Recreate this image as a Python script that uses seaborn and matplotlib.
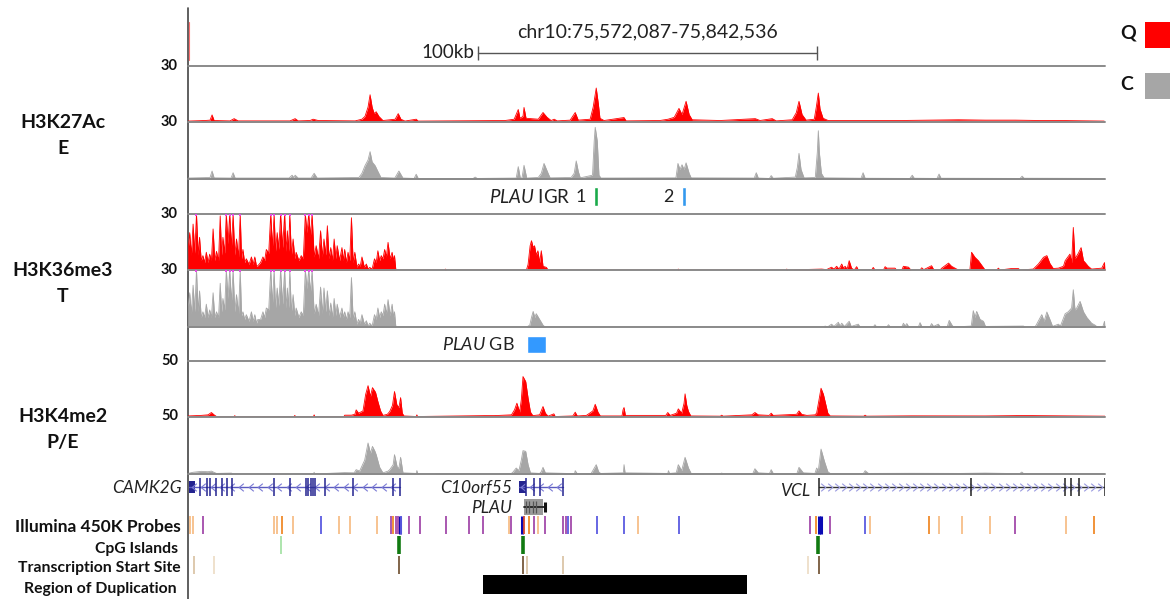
import numpy as np
import matplotlib
matplotlib.use("Agg")
import matplotlib.pyplot as plt
from matplotlib.patches import Rectangle
from matplotlib.path import Path
import seaborn as sns

# Region: chr10:75,572,087-75,842,536, all positions in kb from region start
REGION = "chr10:75,572,087-75,842,536"
SPAN_KB = 270.45
SCALE_BAR_KB = (85.5, 185.5)

# ---- signal tracks, (kb, value) ----
K27_Q = [(0.0, 0.5), (5.0, 0.8), (6.5, 1), (7.1, 3.8), (7.7, 0.8), (12.4, 0.6), (13.6, 1.8), (14.8, 0.6),
         (30.1, 0.6), (31.6, 1.8), (32.5, 0.6), (36.0, 0.8), (36.9, 1.5), (38.4, 0.8), (49.3, 0.6), (51.3, 1.5),
         (52.2, 3.0), (53.1, 8), (53.7, 14.6), (54.3, 8), (54.9, 4.5), (55.5, 5.5), (56.3, 3), (57.5, 0.8),
         (61.1, 1.5), (62.0, 4.5), (62.8, 1.5), (64.0, 0.5), (67.3, 1.5), (67.9, 0.5), (93.5, 0.8), (96.2, 1.5),
         (97.4, 6.7), (97.9, 2), (98.8, 3), (99.1, 7.8), (99.7, 2), (103.3, 1.5), (104.7, 5.1), (105.9, 2.5),
         (107.1, 0.8), (108.0, 1.5), (108.9, 0.6), (112.7, 1), (114.2, 5.1), (115.1, 1), (118.6, 1.5),
         (119.5, 8), (120.4, 18.2), (121.0, 10), (121.5, 2), (122.7, 0.8), (128.6, 2.4), (129.2, 0.6),
         (139.2, 0.8), (141.6, 1.5), (143.4, 2.5), (144.8, 7.3), (145.7, 4), (146.9, 11.1), (147.8, 4),
         (148.7, 1.2), (156.9, 0.8), (167.3, 1.8), (168.7, 0.8), (172.3, 1.8), (173.5, 0.6), (178.2, 1.2),
         (179.4, 5), (180.2, 11.1), (181.1, 4), (182.3, 1), (184.7, 1.5), (185.3, 8), (185.9, 15.5), (186.4, 7),
         (187.3, 2), (188.8, 0.8), (198.2, 0.8), (210.0, 0.8), (227.2, 1.2), (235.1, 1), (244.0, 1),
         (251.3, 0.8), (257.2, 0.8), (270.2, 0.5)]

K27_C = [(0.0, 0.5), (6.5, 0.8), (7.1, 4.2), (7.7, 0.6), (12.7, 0.5), (13.3, 3.3), (13.9, 0.5), (29.8, 0.5),
         (30.7, 2), (31.2, 0.8), (31.6, 2), (32.5, 0.5), (36.3, 0.5), (37.2, 3), (38.1, 0.5), (50.4, 0.8),
         (51.3, 3), (52.2, 7), (53.1, 10), (53.7, 14.4), (54.3, 9), (55.2, 7), (56.0, 4), (56.9, 0.8),
         (61.0, 0.5), (62.2, 4.2), (63.4, 0.5), (66.7, 0.3), (67.3, 2.5), (67.9, 0.3), (84.1, 0.3), (84.7, 1),
         (85.3, 0.3), (96.8, 0.5), (97.4, 6.5), (98.0, 0.5), (98.5, 0.5), (99.1, 7.2), (99.9, 0.5), (103.3, 0.8),
         (104.2, 3), (105.0, 8.2), (106.2, 3), (106.8, 0.6), (113.0, 0.8), (113.9, 3), (114.5, 9.5),
         (115.1, 4), (115.7, 0.6), (119.3, 2), (119.8, 20), (120.1, 27.2), (120.7, 20), (121.2, 2),
         (121.8, 0.5), (143.9, 0.6), (144.5, 8.2), (145.1, 5), (145.7, 7.5), (146.3, 5), (146.9, 8.5),
         (147.8, 3), (148.4, 0.6), (167.0, 0.5), (167.6, 3.3), (168.2, 0.5), (171.5, 0.3), (172.0, 1.8),
         (172.6, 0.4), (179.1, 1), (179.7, 6), (180.2, 13.5), (180.8, 5), (181.7, 0.6), (185.0, 0.8),
         (185.6, 14), (185.9, 25.4), (186.2, 14), (186.8, 3), (187.6, 0.6), (198.5, 0.4), (199.1, 3.3),
         (199.7, 0.4), (212.9, 0.3), (213.6, 2), (214.2, 0.4), (220.9, 0.3), (221.5, 2.6), (222.1, 0.4),
         (245.4, 0.3), (246.0, 1.5), (246.6, 0.4), (270.45, 0.3)]

# H3K36me3: dense gene-body signal over CAMK2G shares one position list
K36_DENSE_KB = [0.0, 0.1, 0.5, 1.0, 1.5, 2.0, 2.5, 3.0, 3.4, 3.9, 4.4, 4.9, 5.4, 5.9, 6.4, 6.9, 7.4, 7.9, 8.4,
                9.0, 9.5, 9.9, 10.3, 10.8, 11.3, 11.8, 12.3, 12.8, 13.3, 13.8, 14.3, 14.9, 15.4, 15.8, 16.2,
                16.7, 17.2, 18.0, 18.7, 19.2, 19.7, 20.2, 20.6, 21.4, 22.1, 22.6, 23.1, 23.8, 24.4, 24.9, 25.4,
                25.8, 26.3, 26.8, 27.3, 27.9, 28.5, 28.9, 29.3, 29.7, 30.0, 30.5, 31.0, 31.5, 31.9, 32.7, 33.4,
                34.0, 34.6, 35.1, 35.6, 36.1, 36.6, 37.2, 37.8, 38.5, 39.1, 39.6, 40.1, 40.6, 41.1, 41.6, 42.1,
                42.6, 43.1, 43.6, 44.0, 44.7, 45.4, 45.8, 46.2, 46.7, 47.2, 47.7, 48.2, 48.7, 49.2, 49.8, 50.3,
                50.8, 51.3, 52.0, 52.6, 53.1, 53.6, 54.3, 55.0, 55.5, 56.0, 56.5, 57.0, 57.5, 58.0, 58.5, 59.0,
                59.6, 60.2, 60.6, 60.9, 61.3]
K36_Q_DENSE = [0, 12, 20, 8, 24.6, 9, 30, 8, 17.5, 5, 7.7, 4, 9.5, 4, 8.5, 5, 22, 5, 10,
               5, 29, 8, 17.5, 9, 30, 14, 30, 12, 30, 8, 16.6, 7, 30, 6, 11,
               4, 6, 3, 7, 3, 7, 2, 2.3, 4, 7, 5, 11, 9, 30, 12, 30,
               10, 20, 11, 30, 12, 30, 10, 21, 10, 30, 8, 16.6, 6, 9.5, 5, 7.7,
               6, 30, 20, 30, 18, 30, 7, 13, 6, 21, 7, 16.6, 8, 23.7, 6, 12,
               5, 16.6, 6, 13, 5, 12, 5, 11, 4, 9.5, 5, 28, 4, 9.5, 1.5, 3.2,
               2, 7, 1.5, 3.2, 0.5, 1.4, 0.5, 6, 4, 10.3, 5, 7.7, 6, 11, 7, 14.8,
               6, 9.5, 5, 7.7, 0]
K36_C_DENSE = [0, 11, 18, 7, 22, 8, 30, 8, 19, 5, 8, 5, 12, 5, 9, 5, 18, 5, 8,
               5, 23, 8, 15, 9, 30, 15, 30, 13, 30, 8, 17, 7, 30, 6, 8,
               4, 6.5, 3, 8, 3, 6.5, 2, 4, 4, 8, 5, 10, 9, 30, 12, 30,
               10, 20.5, 11, 30, 12, 30, 10, 20.5, 10, 30, 8, 17, 6, 10, 5, 8,
               6, 30, 20, 30, 18, 30, 7, 12, 6, 21, 7, 20.5, 8, 19, 6, 12.6,
               5, 15, 6, 12, 5, 10, 5, 8, 4, 8, 5, 26, 4, 8, 1.5, 4,
               2, 6.5, 1.5, 3.3, 0.5, 2, 0.5, 6.5, 4, 10, 5, 8, 6, 12, 7, 14.4,
               6, 12, 5, 8, 0]
K36_Q_REST = [(75.7, 0), (75.9, 0.5), (76.1, 0), (99.8, 0), (100.3, 3), (100.9, 13), (101.3, 15.7), (101.8, 12),
              (102.2, 13), (102.7, 8), (103.2, 10.3), (103.7, 4), (104.2, 10.3), (104.7, 2), (105.7, 1.4),
              (106.2, 0), (144.4, 0), (144.6, 0.5), (144.8, 0), (176.4, 0), (176.6, 0.5), (176.8, 0),
              (186.9, 0.5), (188.3, 0.2), (189.8, 1.5), (190.5, 0.5), (191.3, 2), (192.0, 0.5), (192.8, 3.2),
              (193.3, 1), (193.8, 2), (194.4, 0.5), (195.0, 5), (195.7, 1), (196.5, 0), (197.2, 1.8), (197.7, 0),
              (201.6, 0), (202.1, 1.4), (202.6, 0), (205.1, 0), (205.6, 1.8), (206.1, 1), (208.5, 1), (209.0, 0),
              (210.5, 0), (211.0, 2), (212.5, 1.5), (213.2, 0), (215.9, 0), (216.4, 1.2), (217.0, 0.2),
              (219.3, 2.3), (220.0, 0), (221.8, 0), (222.3, 1), (224.3, 3.7), (225.2, 2), (226.7, 0.5),
              (227.2, 0), (230.6, 0), (231.1, 9.5), (232.1, 6.8), (233.1, 5), (234.3, 2), (235.1, 0),
              (238.5, 0), (239.0, 1), (239.5, 0), (242.9, 0.8), (244.9, 0.8), (245.4, 0), (249.3, 0.5),
              (250.8, 3.2), (252.3, 6.8), (253.3, 7.7), (254.2, 3.5), (255.2, 0.8), (256.7, 1), (258.2, 2),
              (258.7, 5), (260.1, 8.5), (260.6, 4), (261.1, 22.8), (261.6, 6), (262.6, 9), (263.4, 12),
              (264.1, 5), (264.6, 4), (265.5, 2), (266.5, 0.5), (269.5, 1), (270.3, 4), (270.45, 0)]
K36_C_REST = [(99.9, 0), (100.8, 1), (101.3, 5), (101.8, 8.2), (102.3, 5), (102.7, 7), (103.7, 4), (104.7, 1),
              (105.3, 0), (187.5, 0), (187.9, 0.5), (188.6, 0), (189.8, 1.5), (190.5, 0.3), (191.8, 2.5),
              (192.3, 0.5), (192.8, 2), (193.6, 0.3), (195.0, 3), (195.6, 0.3), (197.7, 1.5), (198.2, 0),
              (202.1, 0), (202.6, 1.2), (203.1, 0), (206.1, 0), (206.6, 1.2), (207.1, 0), (210.5, 0), (211.0, 2),
              (211.5, 0.5), (212.0, 1.8), (212.6, 0), (215.4, 0), (215.9, 2.3), (216.5, 0), (218.8, 0),
              (219.3, 1.8), (219.9, 0.3), (221.3, 1.5), (221.9, 0), (223.9, 0), (224.5, 3.5), (225.5, 0.5),
              (226.0, 0), (231.0, 0.5), (231.6, 8.6), (232.1, 5), (232.6, 8.2), (233.6, 4), (234.6, 3),
              (235.2, 0.3), (246.4, 0.5), (246.9, 0), (249.8, 0), (250.3, 1.5), (251.8, 6.5), (252.5, 3),
              (253.3, 7.9), (254.2, 4), (255.0, 0.3), (256.7, 1.5), (257.3, 0.5), (258.7, 7), (259.6, 8),
              (260.6, 10), (261.1, 19.6), (261.6, 9), (262.1, 10), (263.1, 13.5), (264.1, 8), (265.1, 5),
              (266.5, 2), (267.5, 1), (268.2, 0), (269.8, 0), (270.3, 3), (270.45, 0)]

K4_Q = [(0.0, 0.5), (3.9, 1), (5.9, 1.5), (6.9, 3.6), (7.7, 1.5), (8.4, 0), (13.6, 0), (13.8, 0.8), (14.0, 0),
        (31.3, 0), (31.5, 1), (31.7, 0), (37.0, 0), (37.2, 1.5), (37.4, 0), (46.0, 0), (46.2, 1.2), (48.2, 1.2),
        (49.2, 2), (49.6, 6), (50.3, 3), (51.6, 5), (52.4, 20), (53.1, 27.8), (53.8, 18), (54.4, 26),
        (55.3, 21.9), (56.0, 13.5), (56.8, 5), (57.5, 1), (58.8, 2), (59.5, 4.5), (60.3, 10), (60.9, 22.5),
        (61.6, 10.5), (62.2, 8), (62.7, 17), (63.2, 3), (63.7, 0.5), (67.3, 0), (67.5, 1.5), (67.7, 0),
        (87.5, 0.8), (90.4, 0.8), (95.4, 1.5), (96.3, 6), (97.0, 12), (97.8, 4), (98.3, 15), (98.8, 36),
        (99.6, 31.5), (100.3, 16.5), (101.0, 4), (101.7, 0.8), (103.7, 1.5), (104.7, 9), (105.4, 3),
        (106.2, 0.3), (107.9, 2.4), (108.3, 0), (113.5, 0.5), (114.2, 3.9), (114.8, 0.5), (117.5, 1),
        (119.4, 5), (120.1, 11), (120.9, 4), (121.6, 0.5), (128.0, 0.5), (128.3, 6), (128.6, 8.1),
        (129.0, 1), (140.9, 1), (141.5, 3.6), (142.2, 1), (144.1, 3), (144.6, 6.9), (145.6, 3), (146.3, 12),
        (146.6, 20.4), (147.1, 10), (147.6, 4.5), (148.3, 0.5), (157.0, 0.3), (157.4, 1.2), (157.8, 0.3),
        (166.3, 1.5), (167.2, 3.6), (168.2, 1.5), (171.4, 1), (172.0, 3), (172.6, 1), (179.5, 2), (180.2, 5.1),
        (181.0, 2), (182.5, 1), (184.9, 1.5), (185.4, 3), (186.1, 15), (186.7, 25.5), (187.4, 20),
        (187.9, 13.5), (188.7, 3), (189.4, 0.5), (199.3, 0.3), (199.7, 1.2), (200.1, 0.3), (213.4, 0.6),
        (235.1, 0.5), (243.9, 0.8), (245.9, 0.9), (270.45, 0.3)]

K4_C = [(0.0, 0.5), (1.5, 1.5), (3.9, 2.3), (5.9, 2), (6.9, 2.5), (8.4, 0.5), (12.8, 0.8), (13.2, 0),
        (37.0, 0), (37.2, 1.5), (37.4, 0), (46.2, 1.2), (49.0, 1), (49.6, 3.8), (50.6, 2.5), (52.1, 12),
        (53.1, 27), (53.8, 18), (54.4, 24), (55.1, 20), (55.5, 16.8), (56.5, 6), (57.5, 1), (59.0, 2.5),
        (59.5, 3.8), (60.5, 8), (60.9, 16.8), (61.7, 6), (62.2, 5), (62.7, 14.5), (63.4, 1), (67.3, 0.5),
        (67.5, 3), (67.8, 0), (95.3, 0.3), (95.8, 1.5), (96.8, 5.2), (97.6, 3), (98.3, 12), (98.8, 20.3),
        (99.6, 19.7), (100.3, 8), (101.0, 1), (103.7, 0.5), (104.2, 2), (104.7, 5.8), (105.4, 1), (114.0, 0.3),
        (114.2, 2.9), (114.8, 0.3), (118.9, 0.5), (119.4, 3), (120.4, 8.1), (121.1, 2), (121.7, 0.5),
        (128.4, 1), (128.6, 8.1), (128.9, 1), (141.5, 0.5), (141.7, 2.9), (142.0, 0.5), (144.0, 1),
        (144.6, 8.1), (145.6, 3), (146.6, 14.5), (147.6, 5.2), (148.4, 0.5), (157.0, 0.3), (157.4, 0.8),
        (157.8, 0.3), (166.6, 0.5), (167.2, 4.6), (168.2, 1), (171.5, 0.5), (172.0, 3.8), (172.6, 0.5),
        (179.6, 0.5), (180.2, 5.8), (181.5, 1), (184.9, 0.5), (185.4, 5.2), (185.9, 3), (186.7, 21.7),
        (187.7, 11), (188.7, 2), (189.4, 0.5), (199.2, 0.4), (199.7, 2.9), (200.7, 0.5), (213.4, 0.6),
        (227.7, 0.5), (235.1, 0.8), (245.3, 0.3), (245.9, 1.7), (246.5, 0.3), (270.45, 0.3)]

TRACK_NAMES = ["H3K27Ac", "H3K36me3", "H3K4me2"]
TRACK_STATES = ["E", "T", "P/E"]
TRACK_MAX = [30, 30, 50]

# ---- annotation rows ----
IGR_REGIONS_KB = [120.4, 146.3]
IGR_LABELS = ["1", "2"]
GB_REGION_KB = (100.0, 105.6)

CAMK2G_KB = (0.3, 62.5)
CAMK2G_UTR_KB = (0.3, 2.1)
CAMK2G_EXONS_KB = [3.5, 5.6, 6.5, 8.3, 10.0, 11.5, 13.0, 25.4, 30.1, 34.8, 35.4, 36.3, 36.9, 37.5, 40.4, 48.7,
                   60.5, 62.5]
C10ORF55_KB = (97.6, 110.6)
C10ORF55_UTR_KB = (97.6, 99.7)
C10ORF55_EXONS_KB = [99.7, 102.1, 103.8, 110.6]
PLAU_KB = (99.1, 104.7)
PLAU_EXONS_KB = [99.6, 100.7, 101.7, 102.6]
PLAU_END_KB = 105.3
VCL_KB = (186.1, 270.45)
VCL_EXONS_KB = [186.1, 230.9, 258.8, 260.4, 262.8, 270.4]

PROBES_KB = [0.6, 1.5, 4.4, 25.4, 26.3, 27.7, 31.0, 39.2, 44.5, 47.8, 55.8, 59.9, 60.5, 61.4, 61.9, 62.5, 62.8,
             65.2, 68.4, 76.1, 82.9, 87.0, 94.7, 95.3, 98.5, 99.1, 100.6, 102.1, 103.2, 105.3, 110.6, 111.5,
             112.1, 113.0, 120.7, 128.6, 132.8, 144.8, 183.5, 185.3, 186.1, 186.7, 189.4, 199.7, 201.2, 218.5,
             221.5, 228.3, 236.5, 243.9, 259.0, 267.3]
PROBES_TYPE = ["lo", "lo", "p", "lo", "lo", "o", "lo", "b", "lo", "lo", "lo", "p", "o", "p", "p", "db", "b",
               "p", "p", "p", "p", "p", "lo", "p", "db", "r", "o", "p", "lo", "p", "p", "p",
               "b", "p", "b", "b", "lo", "b", "p", "o", "db", "db", "p", "b", "lo", "o",
               "lo", "lo", "lo", "p", "lo", "o"]
CPG_KB = [27.4, 62.2, 98.8, 185.9]
CPG_TYPE = ["weak", "strong", "strong", "strong"]
TSS_KB = [1.8, 7.7, 62.2, 98.8, 100.0, 110.6, 182.9, 186.1]
TSS_TYPE = ["mid", "weak", "strong", "strong", "mid", "mid", "weak", "strong"]
DUPLICATION_KB = (87.0, 164.9)

# ---- style ----
W, H = 1170, 599
X0, X1 = 188, 1105
Q_RED = "#ff0000"
C_GRAY = "#a6a6a6"
LINE_GRAY = "#8a8a8a"
PROBE_COLORS = {"lo": "#f7be88", "o": "#f08a2a", "p": "#a24aaa", "b": "#5b5be0", "db": "#0a0ab4", "r": "#d84a30"}
CPG_COLORS = {"weak": "#9fe09f", "strong": "#117a11"}
TSS_COLORS = {"weak": "#ecdcc4", "mid": "#d8c0a0", "strong": "#6b4a2a"}

sns.set_theme(style="white")
plt.rcParams["font.family"] = ["Lato", "DejaVu Sans"]
plt.rcParams["mathtext.fontset"] = "custom"
plt.rcParams["mathtext.it"] = "Lato:italic"
plt.rcParams["mathtext.rm"] = "Lato"

fig = plt.figure(figsize=(W / 100, H / 100), dpi=100)


def px_axes(x0, y0, x1, y1):
    ax = fig.add_axes([x0 / W, 1 - y1 / H, (x1 - x0) / W, (y1 - y0) / H])
    ax.set_xlim(0, SPAN_KB)
    ax.set_axis_off()
    return ax


# overlay in pixel space for labels and frame
ov = fig.add_axes([0, 0, 1, 1])
ov.set_xlim(0, W)
ov.set_ylim(H, 0)
ov.set_axis_off()
ov.plot([X0, X0], [8, H], color="#444444", lw=1.2)
ov.plot([X0 + 0.5, X0 + 0.5], [22, 60], color="#ff7070", lw=0.8)


def signal_track(top, bottom, points, ymax, color, top_line=False):
    ax = px_axes(X0, top, X1, bottom)
    kb = [p[0] for p in points]
    val = [p[1] for p in points]
    ax.fill_between(kb, val, color=color, lw=0)
    sns.lineplot(x=kb, y=val, ax=ax, color=color, lw=0.6, estimator=None, sort=False)
    ax.set_ylim(0, ymax)
    ax.set_xlim(0, SPAN_KB)
    ax.set_axis_off()
    ax.axhline(0, color=LINE_GRAY, lw=1.4, clip_on=False)
    if top_line:
        ax.axhline(ymax, color=LINE_GRAY, lw=1.4, clip_on=False)
    clipped = [k for k, v in points if v >= ymax]
    if clipped:
        ax.plot(clipped, [ymax * 0.975] * len(clipped), ls="none", marker="s", ms=1.8, mew=0,
                color="#e84ae8", clip_on=False, zorder=5)
    ov.text(178, top, str(ymax), ha="right", va="center", fontsize=10.5, fontweight="bold", color="#111111")
    return ax


k36_q = list(zip(K36_DENSE_KB, K36_Q_DENSE)) + K36_Q_REST
k36_c = list(zip(K36_DENSE_KB, K36_C_DENSE)) + K36_C_REST

layout = [(66, 122, 179), (214, 270, 327), (361, 416.5, 474)]
series = [(K27_Q, K27_C), (k36_q, k36_c), (K4_Q, K4_C)]
for (t, m, b), (q, c), name, state, ymax in zip(layout, series, TRACK_NAMES, TRACK_STATES, TRACK_MAX):
    signal_track(t, m, q, ymax, Q_RED, top_line=True)
    signal_track(m, b, c, ymax, C_GRAY)
    ov.text(63, m, name, ha="center", va="center", fontsize=14, fontweight="bold", color="#111111")
    ov.text(63, m + 26, state, ha="center", va="center", fontsize=14, fontweight="bold", color="#111111")

# region header and scale bar
hdr = px_axes(X0, 20, X1, 64)
hdr.set_ylim(1, 0)
hdr.text(np.mean(SCALE_BAR_KB), 0.27, REGION, ha="center", va="center", fontsize=14, color="#222222")
hdr.plot(SCALE_BAR_KB, [0.75, 0.75], color="#555555", lw=1)
hdr.vlines(SCALE_BAR_KB, 0.6, 0.92, color="#555555", lw=1)
hdr.text(SCALE_BAR_KB[0] - 1, 0.75, "100kb", ha="right", va="center", fontsize=13.5, color="#222222")

# PLAU intergenic regions
igr = px_axes(X0, 181, X1, 212)
igr.set_ylim(1, 0)
igr_colors = ["#1aaa4a", "#3399ee"]
for k, lab, col in zip(IGR_REGIONS_KB, IGR_LABELS, igr_colors):
    igr.bar(k, 0.6, bottom=0.2, width=1.2, color=col)
    igr.text(k - 3.0, 0.52, lab, ha="right", va="center", fontsize=13, color="#222222")
igr.text(IGR_REGIONS_KB[0] - 7.7, 0.52, r"$\it{PLAU}$ IGR", ha="right", va="center", fontsize=13.5,
         color="#222222")

# PLAU gene body
gb = px_axes(X0, 330, X1, 358)
gb.set_ylim(1, 0)
gb.bar(np.mean(GB_REGION_KB), 0.62, bottom=0.2, width=GB_REGION_KB[1] - GB_REGION_KB[0], color="#3399ff")
gb.text(GB_REGION_KB[0] - 3.5, 0.52, r"$\it{PLAU}$ GB", ha="right", va="center", fontsize=13, color="#222222")

# genes
gn = px_axes(X0, 476, X1, 516)
gn.set_ylim(2, 0)
chev_l = Path([(0.6, 1), (-0.6, 0), (0.6, -1)], [Path.MOVETO, Path.LINETO, Path.LINETO])
chev_r = Path([(-0.6, 1), (0.6, 0), (-0.6, -1)], [Path.MOVETO, Path.LINETO, Path.LINETO])


def gene(span, exons, row, line_col, exon_col, chev_col, step, marker, utr=None):
    gn.plot(span, [row, row], color=line_col, lw=1)
    ch = np.arange(span[0] + step / 2, span[1] - step / 3, step)
    gn.plot(ch, [row] * len(ch), ls="none", marker=marker, ms=5.5, mfc="none", mec=chev_col, mew=0.8)
    gn.vlines(exons, row - 0.45, row + 0.45, color=exon_col, lw=1.1)
    if utr:
        gn.add_patch(Rectangle((utr[0], row - 0.3), utr[1] - utr[0], 0.6, color=exon_col, lw=0))


gene(CAMK2G_KB, CAMK2G_EXONS_KB, 0.55, "#5a5ac0", "#23238f", "#7a7ad4", 2.8, chev_l, CAMK2G_UTR_KB)
gene(C10ORF55_KB, C10ORF55_EXONS_KB, 0.55, "#5a5ac0", "#23238f", "#7a7ad4", 2.6, chev_l, C10ORF55_UTR_KB)
gene(VCL_KB, VCL_EXONS_KB, 0.55, "#333333", "#222222", "#9a9ae0", 2.1, chev_r)
gn.add_patch(Rectangle((PLAU_KB[0], 1.15), PLAU_KB[1] - PLAU_KB[0], 0.78, color="#9a9a9a", lw=0))
gn.plot([PLAU_KB[0], PLAU_END_KB], [1.54, 1.54], color="#222222", lw=1.3)
gn.vlines(PLAU_EXONS_KB, 1.25, 1.83, color="#555555", lw=0.9)
gn.vlines(PLAU_END_KB, 1.3, 1.78, color="#111111", lw=2.2)
gn.text(CAMK2G_KB[0] - 2.0, 0.6, "CAMK2G", ha="right", va="center", fontsize=12.5, style="italic", color="#222222")
gn.text(C10ORF55_KB[0] - 2.0, 0.6, "C10orf55", ha="right", va="center", fontsize=12.5, style="italic",
        color="#222222")
gn.text(PLAU_KB[0] - 3.5, 1.6, "PLAU", ha="right", va="center", fontsize=12.5, style="italic", color="#222222")
gn.text(VCL_KB[0] - 2.5, 0.75, "VCL", ha="right", va="center", fontsize=12.5, style="italic", color="#222222")

# probes, CpG islands, TSS, duplication
bt = px_axes(X0, 515, X1, 595)
bt.set_ylim(4, 0)
for k, t in zip(PROBES_KB, PROBES_TYPE):
    bt.vlines(k, 0.05, 0.95, color=PROBE_COLORS[t], lw=2.2 if t == "db" else 1.3)
for k, t in zip(CPG_KB, CPG_TYPE):
    bt.vlines(k, 1.05, 1.95, color=CPG_COLORS[t], lw=2.6 if t == "strong" else 1.2)
for k, t in zip(TSS_KB, TSS_TYPE):
    bt.vlines(k, 2.05, 2.95, color=TSS_COLORS[t], lw=1.2)
bt.add_patch(Rectangle((DUPLICATION_KB[0], 3.0), DUPLICATION_KB[1] - DUPLICATION_KB[0], 0.95, color="black", lw=0))

row_labels = [("Illumina 450K Probes", 181, 527, 12.5), ("CpG Islands", 178, 549, 11.3),
              ("Transcription Start Site", 181, 568, 11.3), ("Region of Duplication", 177, 589, 11.3)]
for text, x, y, fs in row_labels:
    ov.text(x, y, text, ha="right", va="center", fontsize=fs, fontweight="bold", color="#111111")

# legend
for lab, col, y in [("Q", Q_RED, 35), ("C", C_GRAY, 86)]:
    ov.text(1120, y - 2, lab, ha="left", va="center", fontsize=14, fontweight="bold", color="#111111")
    ov.add_patch(Rectangle((1145, y - 13), 30, 26, color=col, lw=0))

fig.savefig("out.png", dpi=100)
